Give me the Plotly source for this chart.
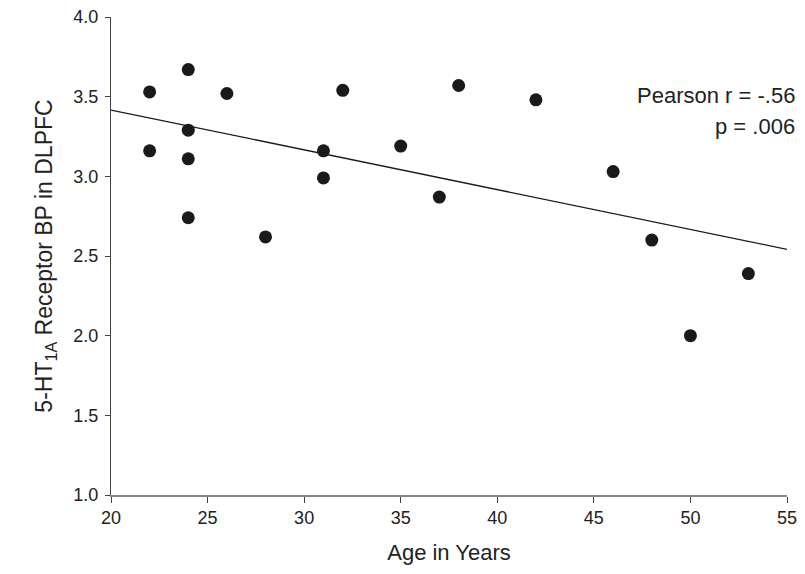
import plotly.graph_objects as go

age = [22, 22, 24, 24, 24, 24, 26, 28, 31, 31, 32, 35, 37, 38, 42, 46, 48, 50, 53]
bp = [3.53, 3.16, 3.67, 3.29, 3.11, 2.74, 3.52, 2.62, 3.16, 2.99, 3.54, 3.19, 2.87, 3.57, 3.48, 3.03, 2.60, 2.00, 2.39]

fit_x = [20, 55]
fit_y = [3.416, 2.542]

x_ticks = [20, 25, 30, 35, 40, 45, 50, 55]
y_ticks = [1.0, 1.5, 2.0, 2.5, 3.0, 3.5, 4.0]
y_ticklabels = ["1.0", "1.5", "2.0", "2.5", "3.0", "3.5", "4.0"]

FONT = "Liberation Sans, Arial, sans-serif"

fig = go.Figure()
fig.add_trace(go.Scatter(x=fit_x, y=fit_y, mode="lines",
                         line=dict(color="#1a1a1a", width=1.3), showlegend=False, hoverinfo="skip"))
fig.add_trace(go.Scatter(x=age, y=bp, mode="markers",
                         marker=dict(size=13, color="#1a1a1a"), showlegend=False, cliponaxis=False))

fig.add_annotation(x=1.0, y=3.505, xref="paper", yref="y", xanchor="right", yanchor="middle",
                   text="Pearson r = -.56", showarrow=False, font=dict(size=22, color="#222", family=FONT))
fig.add_annotation(x=1.0, y=3.31, xref="paper", yref="y", xanchor="right", yanchor="middle",
                   text="p = .006", showarrow=False, font=dict(size=22, color="#222", family=FONT))

fig.update_layout(
    width=789, height=558,
    margin=dict(l=103, r=10, t=9, b=71),
    paper_bgcolor="white", plot_bgcolor="white",
    font=dict(family=FONT, color="#222", size=18),
    xaxis=dict(range=[20, 55], tickvals=x_ticks, ticks="outside", ticklen=6, tickcolor="#444",
               showline=True, linecolor="#888", linewidth=1.5, showgrid=False, zeroline=False,
               automargin=False, ticklabeloverflow="allow",
               tickfont=dict(size=18), title=dict(text="Age in Years", font=dict(size=22), standoff=17)),
    yaxis=dict(range=[1.0, 4.0], tickvals=y_ticks, ticktext=y_ticklabels, ticks="outside", ticklen=5,
               tickcolor="#444", showline=True, linecolor="#444", linewidth=1.2, showgrid=False, zeroline=False,
               automargin=False, ticklabeloverflow="allow", ticklabelstandoff=3,
               tickfont=dict(size=18),
               title=dict(text="5-HT<sub>1A</sub> Receptor BP in DLPFC", font=dict(size=23), standoff=14)),
)
fig.update_annotations(xshift=10)

fig.write_html("out.html")
